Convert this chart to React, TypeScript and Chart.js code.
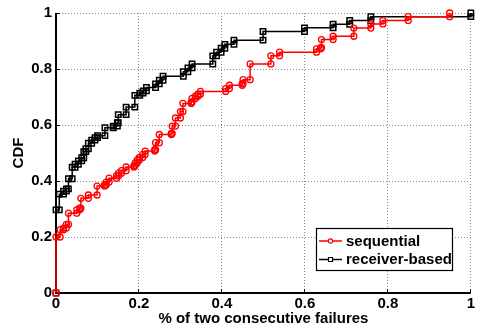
import React, { useEffect, useRef } from 'react';
import { Chart, registerables } from 'chart.js';

Chart.register(...registerables);

// ---- data ----
const seriesNames = ['sequential', 'receiver-based'];

// sequential: x positions of each CDF jump and level after the jump
const seqX = [0, 0.01, 0.018, 0.025, 0.03, 0.05, 0.057, 0.06, 0.078, 0.099, 0.117, 0.121, 0.128, 0.146, 0.151, 0.158, 0.169, 0.188, 0.191, 0.196, 0.201, 0.209, 0.215, 0.238, 0.24, 0.249, 0.278, 0.28, 0.288, 0.3, 0.306, 0.326, 0.328, 0.336, 0.342, 0.348, 0.409, 0.418, 0.449, 0.451, 0.468, 0.518, 0.539, 0.628, 0.638, 0.64, 0.668, 0.718, 0.759, 0.788, 0.849, 0.949];
const seqY = [0.2, 0.226, 0.232, 0.245, 0.285, 0.297, 0.303, 0.338, 0.35, 0.382, 0.386, 0.396, 0.41, 0.419, 0.428, 0.437, 0.45, 0.455, 0.465, 0.475, 0.484, 0.495, 0.507, 0.512, 0.537, 0.566, 0.57, 0.596, 0.625, 0.648, 0.677, 0.682, 0.695, 0.703, 0.71, 0.72, 0.73, 0.742, 0.748, 0.762, 0.818, 0.847, 0.86, 0.872, 0.876, 0.905, 0.917, 0.946, 0.961, 0.973, 0.987, 1.0];

// receiver-based
const recX = [0, 0.008, 0.018, 0.025, 0.03, 0.039, 0.046, 0.054, 0.062, 0.067, 0.072, 0.078, 0.086, 0.094, 0.1, 0.118, 0.138, 0.148, 0.15, 0.169, 0.19, 0.202, 0.21, 0.218, 0.24, 0.249, 0.258, 0.307, 0.318, 0.328, 0.378, 0.387, 0.398, 0.407, 0.429, 0.499, 0.599, 0.668, 0.708, 0.759, 1.0];
const recY = [0.297, 0.353, 0.364, 0.372, 0.408, 0.449, 0.46, 0.472, 0.483, 0.505, 0.515, 0.535, 0.546, 0.555, 0.562, 0.59, 0.596, 0.608, 0.637, 0.664, 0.706, 0.714, 0.722, 0.734, 0.747, 0.76, 0.774, 0.79, 0.804, 0.818, 0.847, 0.86, 0.874, 0.888, 0.903, 0.934, 0.947, 0.96, 0.973, 0.987, 1.0];

const xTicks = [0, 0.2, 0.4, 0.6, 0.8, 1];
const xTickLabels = ['0', '0.2', '0.4', '0.6', '0.8', '1'];
const yTicks = [0, 0.2, 0.4, 0.6, 0.8, 1];
const yTickLabels = ['0', '0.2', '0.4', '0.6', '0.8', '1'];
const xTitle = '% of two consecutive failures';
const yTitle = 'CDF';

const FONT = "'Liberation Sans', Arial, Helvetica, sans-serif";

function stairPoints(xs: number[], ys: number[]) {
  const pts: { x: number; y: number }[] = [];
  let prev = 0;
  for (let i = 0; i < xs.length; i++) {
    pts.push({ x: xs[i], y: prev });
    pts.push({ x: xs[i], y: ys[i] });
    prev = ys[i];
  }
  return pts;
}

const axesPlugin = {
  id: 'matlabAxes',
  beforeDatasetsDraw(chart: any) {
    const { ctx, chartArea, scales } = chart;
    const { left, right, top, bottom } = chartArea;
    const xs = scales.x;
    const ys = scales.y;
    ctx.save();
    ctx.strokeStyle = '#8c8c8c';
    ctx.lineWidth = 1;
    ctx.setLineDash([1, 2]);
    xTicks.forEach((v) => {
      if (v === 0) return;
      const px = Math.round(xs.getPixelForValue(v)) - 0.5;
      ctx.beginPath();
      ctx.moveTo(px, top);
      ctx.lineTo(px, bottom);
      ctx.stroke();
    });
    yTicks.forEach((v) => {
      if (v === 0) return;
      const py = Math.round(ys.getPixelForValue(v)) + 0.5;
      ctx.beginPath();
      ctx.moveTo(left, py);
      ctx.lineTo(right, py);
      ctx.stroke();
    });
    ctx.setLineDash([]);
    ctx.strokeStyle = '#000';
    ctx.lineWidth = 2;
    ctx.beginPath();
    ctx.moveTo(left, top);
    ctx.lineTo(left, bottom);
    ctx.lineTo(right, bottom);
    ctx.stroke();
    ctx.lineWidth = 1;
    xTicks.forEach((v) => {
      const px = Math.round(xs.getPixelForValue(v)) - 0.5;
      ctx.beginPath();
      ctx.moveTo(px, bottom);
      ctx.lineTo(px, bottom - 4);
      ctx.stroke();
    });
    yTicks.forEach((v) => {
      const py = Math.round(ys.getPixelForValue(v)) + 0.5;
      ctx.beginPath();
      ctx.moveTo(left, py);
      ctx.lineTo(left + 4, py);
      ctx.stroke();
    });
    ctx.restore();
  },
  afterDraw(chart: any) {
    const { ctx } = chart;
    ctx.save();
    const bx = 316.5, by = 228.5, bw = 136, bh = 42;
    ctx.fillStyle = '#fff';
    ctx.fillRect(bx, by, bw, bh);
    ctx.strokeStyle = '#000';
    ctx.lineWidth = 1.2;
    ctx.strokeRect(bx, by, bw, bh);
    const entries = [
      { name: seriesNames[0], color: '#ff0000', style: 'circle', y: 241 },
      { name: seriesNames[1], color: '#000000', style: 'rect', y: 259.5 },
    ];
    entries.forEach((e) => {
      ctx.strokeStyle = e.color;
      ctx.lineWidth = 1.5;
      ctx.beginPath();
      ctx.moveTo(319, e.y);
      ctx.lineTo(342, e.y);
      ctx.stroke();
      ctx.beginPath();
      if (e.style === 'circle') {
        ctx.arc(330.5, e.y, 2.2, 0, Math.PI * 2);
      } else {
        ctx.rect(328.5, e.y - 2, 4, 4);
      }
      ctx.fillStyle = '#fff';
      ctx.fill();
      ctx.lineWidth = 1.2;
      ctx.stroke();
      ctx.fillStyle = '#000';
      ctx.font = `bold 15px ${FONT}`;
      ctx.textAlign = 'left';
      ctx.textBaseline = 'middle';
      ctx.fillText(e.name, 346, e.y + 0.5);
    });
    ctx.restore();
  },
};

export default function App() {
  const ref = useRef<HTMLCanvasElement>(null);
  useEffect(() => {
    if (!ref.current) return;
    const chart = new Chart(ref.current, {
      type: 'line',
      data: {
        datasets: [
          {
            label: seriesNames[0],
            data: stairPoints(seqX, seqY),
            borderColor: '#ff0000',
            borderWidth: 1.5,
            pointStyle: 'circle',
            pointRadius: 3,
            pointBorderWidth: 1.3,
            pointBorderColor: '#ff0000',
            pointBackgroundColor: 'rgba(0,0,0,0)',
            tension: 0,
            clip: false as any,
          },
          {
            label: seriesNames[1],
            data: stairPoints(recX, recY),
            borderColor: '#000000',
            borderWidth: 1.5,
            pointStyle: 'rect',
            pointRadius: 3.8,
            pointBorderWidth: 1.5,
            pointBorderColor: '#000000',
            pointBackgroundColor: 'rgba(0,0,0,0)',
            tension: 0,
            clip: false as any,
          },
        ],
      },
      options: {
        responsive: false,
        animation: false,
        devicePixelRatio: 1,
        layout: { padding: { top: 8, right: 6, left: 0, bottom: 0 } },
        plugins: { legend: { display: false }, tooltip: { enabled: false } },
        scales: {
          x: {
            type: 'linear',
            min: 0,
            max: 1,
            grid: { display: false, drawTicks: false },
            border: { display: false },
            afterBuildTicks: (s: any) => {
              s.ticks = xTicks.map((v) => ({ value: v }));
            },
            afterFit: (s: any) => {
              s.height = 37;
            },
            ticks: {
              padding: 2,
              color: '#000',
              font: { family: FONT, size: 15, weight: 'bold' },
              maxRotation: 0,
              callback: (_v: any, i: number) => xTickLabels[i],
            },
            title: {
              display: true,
              text: xTitle,
              color: '#000',
              font: { family: FONT, size: 15, weight: 'bold' },
              padding: { top: 0, bottom: 2 },
            },
          },
          y: {
            type: 'linear',
            min: 0,
            max: 1,
            grid: { display: false, drawTicks: false },
            border: { display: false },
            afterBuildTicks: (s: any) => {
              s.ticks = yTicks.map((v) => ({ value: v }));
            },
            afterFit: (s: any) => {
              s.width = 56;
            },
            ticks: {
              padding: 4,
              color: '#000',
              font: { family: FONT, size: 15, weight: 'bold' },
              callback: (_v: any, i: number) => yTickLabels[i],
            },
            title: {
              display: true,
              text: yTitle,
              color: '#000',
              font: { family: FONT, size: 15, weight: 'bold' },
              padding: { top: 10, bottom: 0 },
            },
          },
        },
      },
      plugins: [axesPlugin],
    } as any);
    return () => chart.destroy();
  }, []);
  return (
    <div style={{ position: 'fixed', left: 0, top: 0, width: 477, height: 330, background: '#fff' }}>
      <canvas ref={ref} width={477} height={330} style={{ display: 'block' }} />
    </div>
  );
}
